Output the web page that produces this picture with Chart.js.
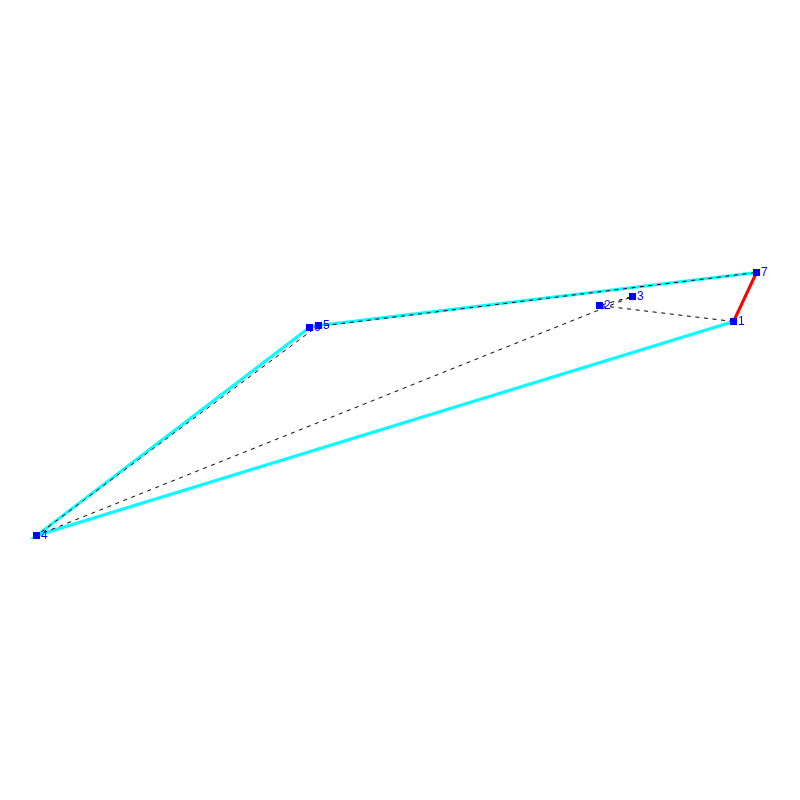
<!DOCTYPE html>
<html>
<head>
<meta charset="utf-8">
<title>Tour</title>
<script src="https://cdn.jsdelivr.net/npm/chart.js@4"></script>
<style>
    html, body { margin: 0; padding: 0; background: #fff; }
    canvas { display: block; }
</style>
</head>
<body>
<canvas id="tourChart" width="800" height="800"></canvas>
<script>
// Values
const pointLabels = ['1', '2', '3', '4', '5', '6', '7'];
const xValues = [733.5, 599.5, 632.5, 36.5, 318.5, 309.5, 756.5];
const yValues = [321.5, 305.5, 296.5, 535.5, 325.5, 327.5, 272.5];

// Order the points are joined in, as positions in the lists above
const tourOrder = [0, 1, 2, 3, 4, 5, 6];
const hullOrder = [0, 3, 5, 4, 6];
const redOrder = [6, 0];

function pointsFor(order) {
    return order.map(function (i) {
        return { x: xValues[i], y: yValues[i] };
    });
}

const labelPlugin = {
    id: 'pointNumbers',
    // numbers go over the lines but under the squares
    afterDatasetDraw: function (chart, args) {
        if (args.index !== 1) {
            return;
        }
        const ctx = chart.ctx;
        ctx.save();
        ctx.fillStyle = '#0000ff';
        ctx.font = '12px "Liberation Sans"';
        ctx.textAlign = 'left';
        ctx.textBaseline = 'alphabetic';
        pointLabels.forEach(function (text, i) {
            const px = chart.scales.x.getPixelForValue(xValues[i]);
            const py = chart.scales.y.getPixelForValue(yValues[i]);
            ctx.fillText(text, px + 4.5, py + 3.5);
        });
        ctx.restore();
    }
};

const ctx = document.getElementById('tourChart').getContext('2d');
new Chart(ctx, {
    type: 'scatter',
    data: {
        datasets: [
            {
                // first dataset ends up on top
                data: pointsFor(tourOrder),
                showLine: false,
                pointStyle: 'rect',
                pointRadius: 5,
                pointBackgroundColor: '#0000ff',
                pointBorderWidth: 0
            },
            {
                data: pointsFor(tourOrder),
                showLine: true,
                borderColor: '#000000',
                borderWidth: 1,
                borderDash: [4, 4.6],
                pointRadius: 0
            },
            {
                data: pointsFor(redOrder),
                showLine: true,
                borderColor: '#ff0000',
                borderWidth: 3,
                pointRadius: 0
            },
            {
                data: pointsFor(hullOrder),
                showLine: true,
                borderColor: '#00ffff',
                borderWidth: 3,
                pointRadius: 0
            }
        ]
    },
    options: {
        responsive: false,
        animation: false,
        layout: { autoPadding: false, padding: 0 },
        plugins: {
            legend: { display: false },
            tooltip: { enabled: false }
        },
        scales: {
            x: { display: false, min: 0, max: 800 },
            y: { display: false, min: 0, max: 800, reverse: true }
        }
    },
    plugins: [labelPlugin]
});
</script>
</body>
</html>
